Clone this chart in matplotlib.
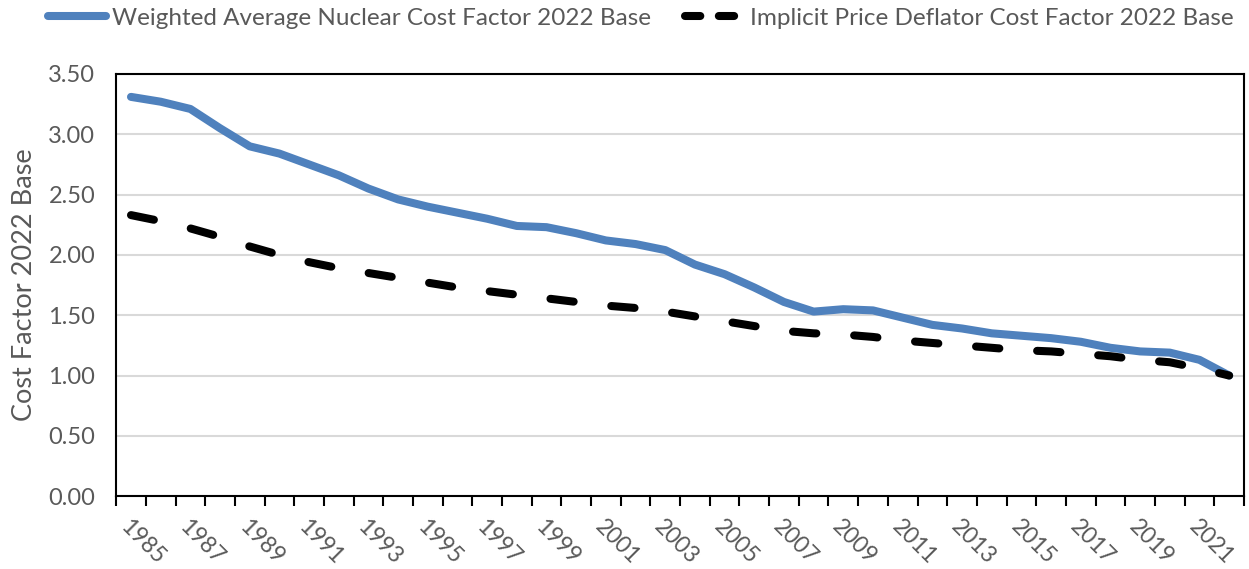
import numpy as np
import matplotlib.pyplot as plt
from matplotlib.lines import Line2D

years = list(range(1985, 2023))

nuclear = [3.31, 3.27, 3.21, 3.05, 2.90, 2.84, 2.75, 2.66, 2.55, 2.46,
           2.40, 2.35, 2.30, 2.24, 2.23, 2.18, 2.12, 2.09, 2.04, 1.92,
           1.84, 1.73, 1.61, 1.53, 1.55, 1.54, 1.48, 1.42, 1.39, 1.35,
           1.33, 1.31, 1.28, 1.23, 1.20, 1.19, 1.13, 1.00]

deflator = [2.33, 2.28, 2.22, 2.15, 2.07, 2.00, 1.94, 1.89, 1.85, 1.81,
            1.77, 1.73, 1.70, 1.67, 1.64, 1.61, 1.58, 1.56, 1.53, 1.49,
            1.45, 1.41, 1.37, 1.35, 1.34, 1.32, 1.29, 1.27, 1.25, 1.23,
            1.21, 1.20, 1.18, 1.16, 1.13, 1.11, 1.06, 1.00]

labels = ["Weighted Average Nuclear Cost Factor 2022 Base",
          "Implicit Price Deflator Cost Factor 2022 Base"]

plt.rcParams['font.family'] = ['Lato', 'DejaVu Sans']
grey = '#595959'
blue = '#4f81bd'

fig = plt.figure(figsize=(12.49, 5.69), dpi=100)
ax = fig.add_axes([0.093, 0.128, 0.903, 0.742])

x = np.arange(len(years))
ax.plot(x, nuclear, color=blue, lw=5.8, solid_capstyle='round',
        solid_joinstyle='round')
ax.plot(x, deflator, color='black', lw=5.8, dashes=(2.9, 4.7),
        dash_capstyle='round')

ax.set_xlim(-0.5, len(years) - 0.5)
ax.set_ylim(0, 3.5)
ax.set_yticks(np.arange(0, 3.51, 0.5))
ax.set_yticklabels([f"{v:.2f}" for v in np.arange(0, 3.51, 0.5)])
ax.yaxis.grid(True, color='#d9d9d9', lw=1.5)
ax.set_axisbelow(True)

ax.set_xticks(x[::2])
ax.set_xticklabels([str(y) for y in years[::2]], rotation=-45,
                   ha='left', rotation_mode='anchor')
ax.set_xticks(np.arange(-0.5, len(years)), minor=True)
ax.tick_params(axis='x', which='major', length=0, pad=14)
ax.tick_params(axis='x', which='minor', length=7, width=1.5, color='black')
ax.tick_params(axis='y', length=0, pad=15)
ax.tick_params(axis='x', labelsize=16.5, labelcolor=grey)
ax.tick_params(axis='y', labelsize=17, labelcolor=grey)

for s in ax.spines.values():
    s.set_color('black')
    s.set_linewidth(1.5)

ax.set_ylabel("Cost Factor 2022 Base", fontsize=19.5, color=grey, labelpad=8)

# legend handles drawn with a shorter dash so two dashes show like the original
handles = [Line2D([], [], color=blue, lw=5.8, solid_capstyle='round'),
           Line2D([], [], color='black', lw=5.8, dashes=(1.9, 2.3),
                  dash_capstyle='round')]
fig.legend(handles, labels, loc='upper center', bbox_to_anchor=(0.513, 1.025),
           ncol=2, frameon=False, fontsize=17.5, labelcolor=grey,
           handlelength=2.4, handletextpad=0.25, columnspacing=1.4)

fig.savefig('out.png', dpi=100)
